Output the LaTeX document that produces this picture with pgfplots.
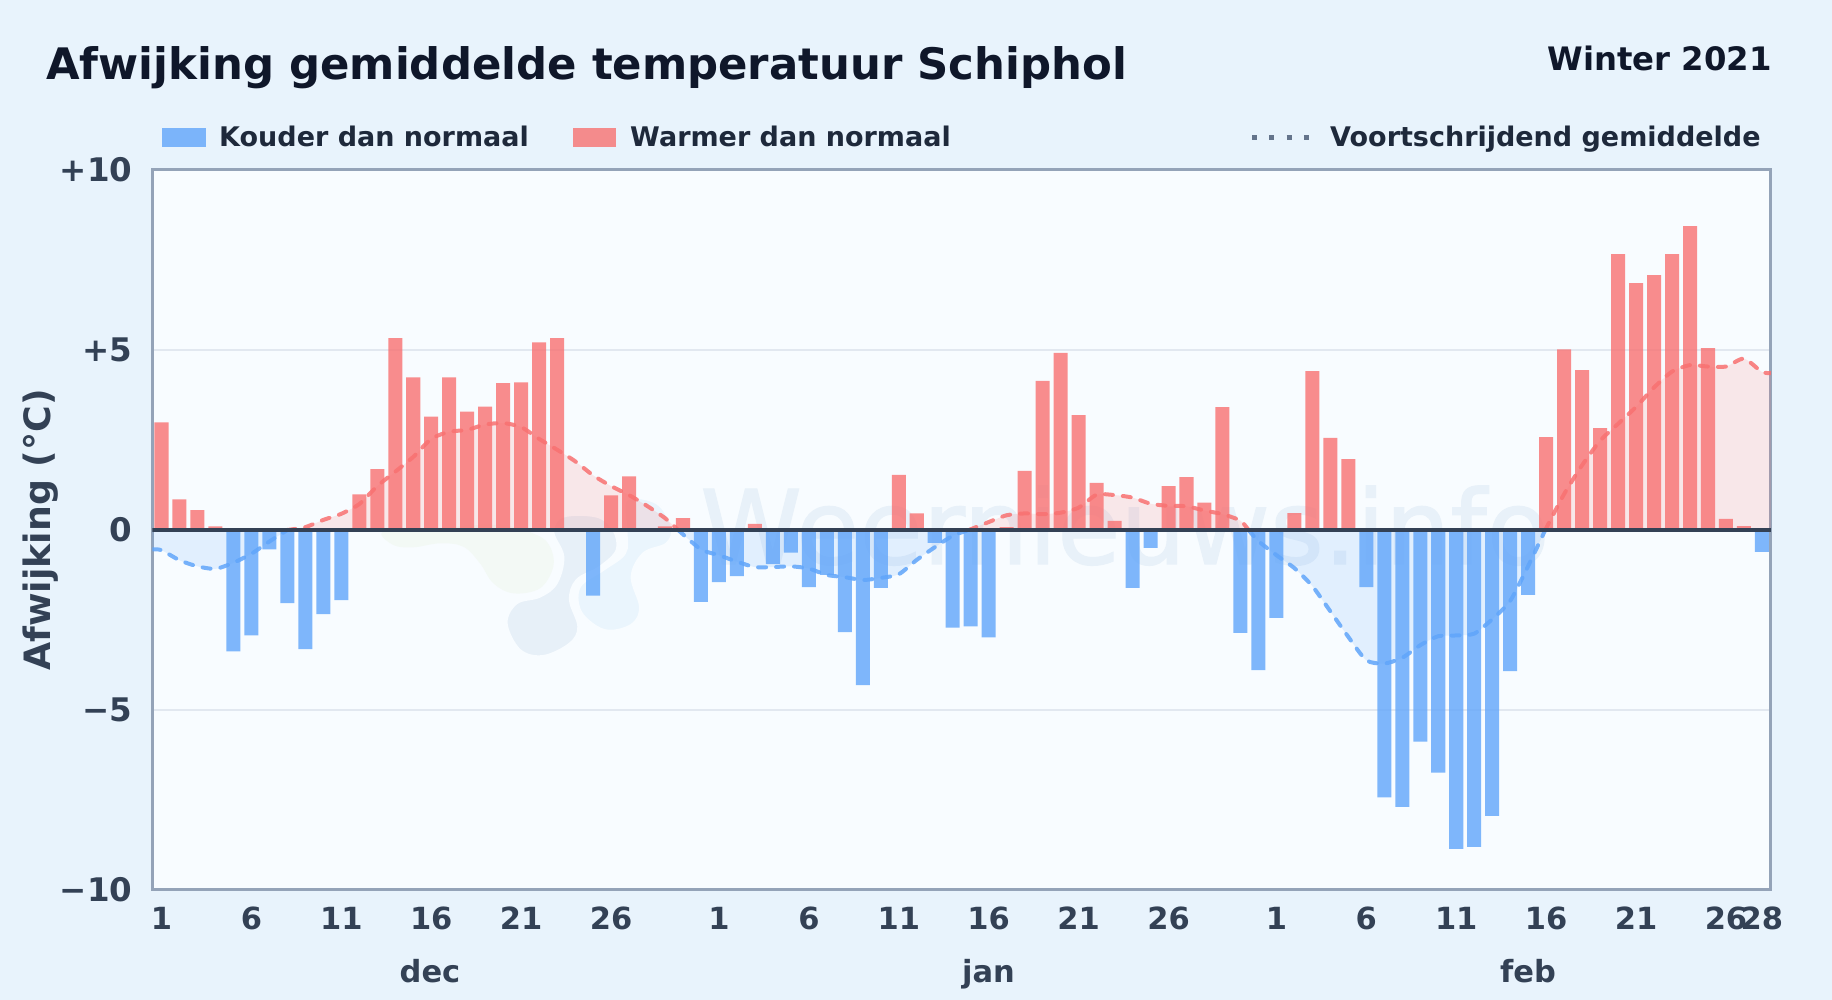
\documentclass[border=0pt]{standalone}
\usepackage{fontspec}
\setmainfont{DejaVu Sans}
\newfontfamily\wmfont[FakeBold=1.2]{DejaVu Sans}
\usepackage{pgfplots}
\usepackage{pgfplotstable}
\pgfplotsset{compat=1.18}
\definecolor{pagebg}{HTML}{E8F3FC}
\definecolor{panelbg}{HTML}{F8FCFF}
\definecolor{lineblue}{HTML}{60A5FA}
\definecolor{linered}{HTML}{F87171}
\definecolor{gridc}{HTML}{E2E8F0}
\definecolor{borderc}{HTML}{94A3B8}
\definecolor{zeroc}{HTML}{334155}
\definecolor{tickc}{HTML}{334155}
\definecolor{legc}{HTML}{1E293B}
\definecolor{titlec}{HTML}{0F172A}
\definecolor{dotc}{HTML}{64748B}
\definecolor{wmark}{HTML}{E8F1F9}
\definecolor{blobgreen}{HTML}{F3F9F5}
\definecolor{blobgrey}{HTML}{E7F0F8}
\definecolor{blobblue}{HTML}{EAF5FD}
\pgfplotstableread{
x y
4 -3.37
5 -2.93
6 -0.54
7 -2.03
8 -3.31
9 -2.34
10 -1.95
24 -1.82
30 -2.00
31 -1.45
32 -1.28
34 -0.94
35 -0.63
36 -1.59
37 -1.25
38 -2.84
39 -4.31
40 -1.61
43 -0.36
44 -2.71
45 -2.68
46 -2.98
54 -1.61
55 -0.50
60 -2.86
61 -3.89
62 -2.44
67 -1.59
68 -7.43
69 -7.69
70 -5.88
71 -6.74
72 -8.86
73 -8.80
74 -7.94
75 -3.92
76 -1.80
89 -0.61
}\coldbars
\pgfplotstableread{
x y
0 2.99
1 0.85
2 0.55
3 0.10
11 0.99
12 1.69
13 5.33
14 4.24
15 3.15
16 4.24
17 3.29
18 3.43
19 4.08
20 4.10
21 5.21
22 5.33
25 0.96
26 1.49
28 0.10
29 0.33
33 0.17
41 1.53
42 0.46
47 0.08
48 1.64
49 4.14
50 4.92
51 3.19
52 1.31
53 0.25
56 1.22
57 1.47
58 0.76
59 3.41
63 0.47
64 4.41
65 2.56
66 1.97
77 2.58
78 5.02
79 4.44
80 2.83
81 7.66
82 6.86
83 7.08
84 7.66
85 8.44
86 5.05
87 0.31
88 0.11
}\warmbars
\pgfplotstableread{
x y
-0.5 -0.54
0 -0.56
1 -0.84
2 -1.01
3 -1.08
4 -0.91
5 -0.66
6 -0.32
7 0
}\negA
\pgfplotstableread{
x y
7 0
8 0.08
9 0.28
10 0.45
11 0.72
12 1.22
13 1.62
14 2.03
15 2.53
16 2.73
17 2.78
18 2.93
19 2.97
20 2.86
21 2.53
22 2.23
23 1.91
24 1.52
25 1.22
26 0.97
27 0.67
28 0.33
28.73 0
}\posA
\pgfplotstableread{
x y
28.73 0
30 -0.54
31 -0.70
32 -0.88
33 -1.03
34 -1.03
35 -1.01
36 -1.07
37 -1.25
38 -1.31
39 -1.39
40 -1.33
41 -1.23
42 -0.83
43 -0.48
44 -0.16
44.9 0
}\negB
\pgfplotstableread{
x y
44.9 0
46 0.22
47 0.41
48 0.46
49 0.44
50 0.48
51 0.62
52 0.98
53 0.97
54 0.90
55 0.73
56 0.67
57 0.66
58 0.54
59 0.44
60 0.26
60.45 0
}\posB
\pgfplotstableread{
x y
60.45 0
61 -0.31
62 -0.70
63 -1.06
64 -1.56
65 -2.26
66 -2.97
67 -3.62
68 -3.71
69 -3.55
70 -3.20
71 -2.95
72 -2.93
73 -2.88
74 -2.48
75 -1.97
76 -1.00
76.95 0
}\negC
\pgfplotstableread{
x y
76.95 0
78 1.00
79 1.80
80 2.48
81 2.95
82 3.42
83 3.96
84 4.40
85 4.58
86 4.54
87 4.54
88 4.76
89 4.39
89.5 4.36
}\posC
\newcommand{\fs}[1]{\fontsize{#1pt}{#1pt}\selectfont\bfseries}
\begin{document}
\begin{tikzpicture}[x=1pt,y=1pt]
\path[use as bounding box,fill=pagebg] (0,0) rectangle (1832,1000);
\fill[panelbg] (152.5,110) rectangle (1771,830);
% watermark
\node[anchor=base west,inner sep=0pt,text=wmark] at (700,436) {\fontsize{103pt}{103pt}\selectfont\wmfont Weernieuws.info};
\begin{scope}[shift={(350,540)},x=0.3333pt,y=-0.3333pt]
\fill[blobgreen,draw=none] plot[smooth cycle,tension=0.6] coordinates {(100,215)(130,255)(190,262)(270,250)(340,260)(390,310)(430,370)(490,400)(570,385)(610,320)(600,260)(560,225)(450,195)(250,205)};
\fill[blobgrey,draw=panelbg,line width=2pt] plot[smooth cycle,tension=0.6] coordinates {(610,215)(640,290)(620,370)(570,410)(500,430)(470,490)(510,570)(580,588)(660,550)(685,500)(660,420)(680,360)(750,320)(800,270)(790,210)(740,170)(640,170)};
\fill[blobblue,draw=panelbg,line width=2pt] plot[smooth cycle,tension=0.6] coordinates {(830,215)(825,280)(760,330)(690,380)(690,450)(740,500)(790,512)(850,490)(870,440)(845,350)(880,280)(950,250)(965,200)(920,130)(830,120)};
\end{scope}
\begin{axis}[
  at={(152.5pt,110pt)},anchor=south west,
  width=1618.5pt,height=720pt,scale only axis,
  xmin=-0.5,xmax=89.5,ymin=-10,ymax=10,
  axis line style={draw=borderc,line width=3pt},
  ymajorgrids,grid style={draw=gridc,line width=2pt},
  major tick length=0pt,
  ytick={-10,-5,0,5,10},
  yticklabels={−10,−5,0,+5,+10},
  xtick={0,5,10,15,20,25,31,36,41,46,51,56,62,67,72,77,82,87,89},
  xticklabels={1,6,11,16,21,26,1,6,11,16,21,26,1,6,11,16,21,26,28},
  xticklabel style={anchor=base,yshift=-40pt,inner sep=0pt,font=\fs{30.5},text=tickc},
  yticklabel style={anchor=base east,yshift=-12pt,xshift=-20pt,inner sep=0pt,font=\fs{32.5},text=tickc},
  ylabel={Afwijking (°C)},
  every axis y label/.style={at={(axis description cs:-0.0692,0.5)},rotate=90,anchor=center,font=\fs{36.3},text=tickc},
]
\pgfplotsset{
 fneg/.style={fill=lineblue,fill opacity=0.15,draw=none,smooth,tension=0.4},
 fpos/.style={fill=linered,fill opacity=0.15,draw=none,smooth,tension=0.4},
 lneg/.style={draw=lineblue,line width=4pt,opacity=0.85,dash pattern=on 8pt off 10pt,line cap=round,smooth,tension=0.4,no markers},
 lpos/.style={draw=linered,line width=4pt,opacity=0.85,dash pattern=on 8pt off 10pt,line cap=round,smooth,tension=0.4,no markers},
 bb/.style={ybar,bar shift=0pt,bar width=0.78,draw=none,fill opacity=0.8},
}
\addplot[fneg] table {\negA} -- (axis cs:-0.5,0) -- cycle;
\addplot[fpos] table {\posA} -- cycle;
\addplot[fneg] table {\negB} -- cycle;
\addplot[fpos] table {\posB} -- cycle;
\addplot[fneg] table {\negC} -- cycle;
\addplot[fpos] table {\posC} -- (axis cs:89.5,0) -- cycle;
\addplot[lneg] table {\negA};
\addplot[lpos] table {\posA};
\addplot[lneg] table {\negB};
\addplot[lpos] table {\posB};
\addplot[lneg] table {\negC};
\addplot[lpos] table {\posC};
\addplot[bb,fill=lineblue] table {\coldbars};
\addplot[bb,fill=linered] table {\warmbars};
\addplot[draw=zeroc,line width=4pt,no markers] coordinates {(-0.5,0) (89.5,0)};
\end{axis}
\node[anchor=base west,inner sep=0pt,text=titlec] at (46,920) {\fs{43.4}Afwijking gemiddelde temperatuur Schiphol};
\node[anchor=base east,inner sep=0pt,text=titlec] at (1772,929) {\fs{32.3}Winter 2021};
\fill[lineblue,opacity=0.8] (162,853) rectangle (206,872);
\node[anchor=base west,inner sep=0pt,text=legc] at (219,853) {\fs{27}Kouder dan normaal};
\fill[linered,opacity=0.8] (573,853) rectangle (616,872);
\node[anchor=base west,inner sep=0pt,text=legc] at (630,853) {\fs{27}Warmer dan normaal};
\draw[dotc,line width=5pt,dash pattern=on 5pt off 12.3pt] (1252,862) -- (1309,862);
\node[anchor=base west,inner sep=0pt,text=legc] at (1330,853) {\fs{27}Voortschrijdend gemiddelde};
\node[anchor=base,inner sep=0pt,text=tickc] at (430,17) {\fs{30.5}dec};
\node[anchor=base,inner sep=0pt,text=tickc] at (988.5,17) {\fs{30.5}jan};
\node[anchor=base,inner sep=0pt,text=tickc] at (1528,17) {\fs{30.5}feb};
\end{tikzpicture}
\end{document}
